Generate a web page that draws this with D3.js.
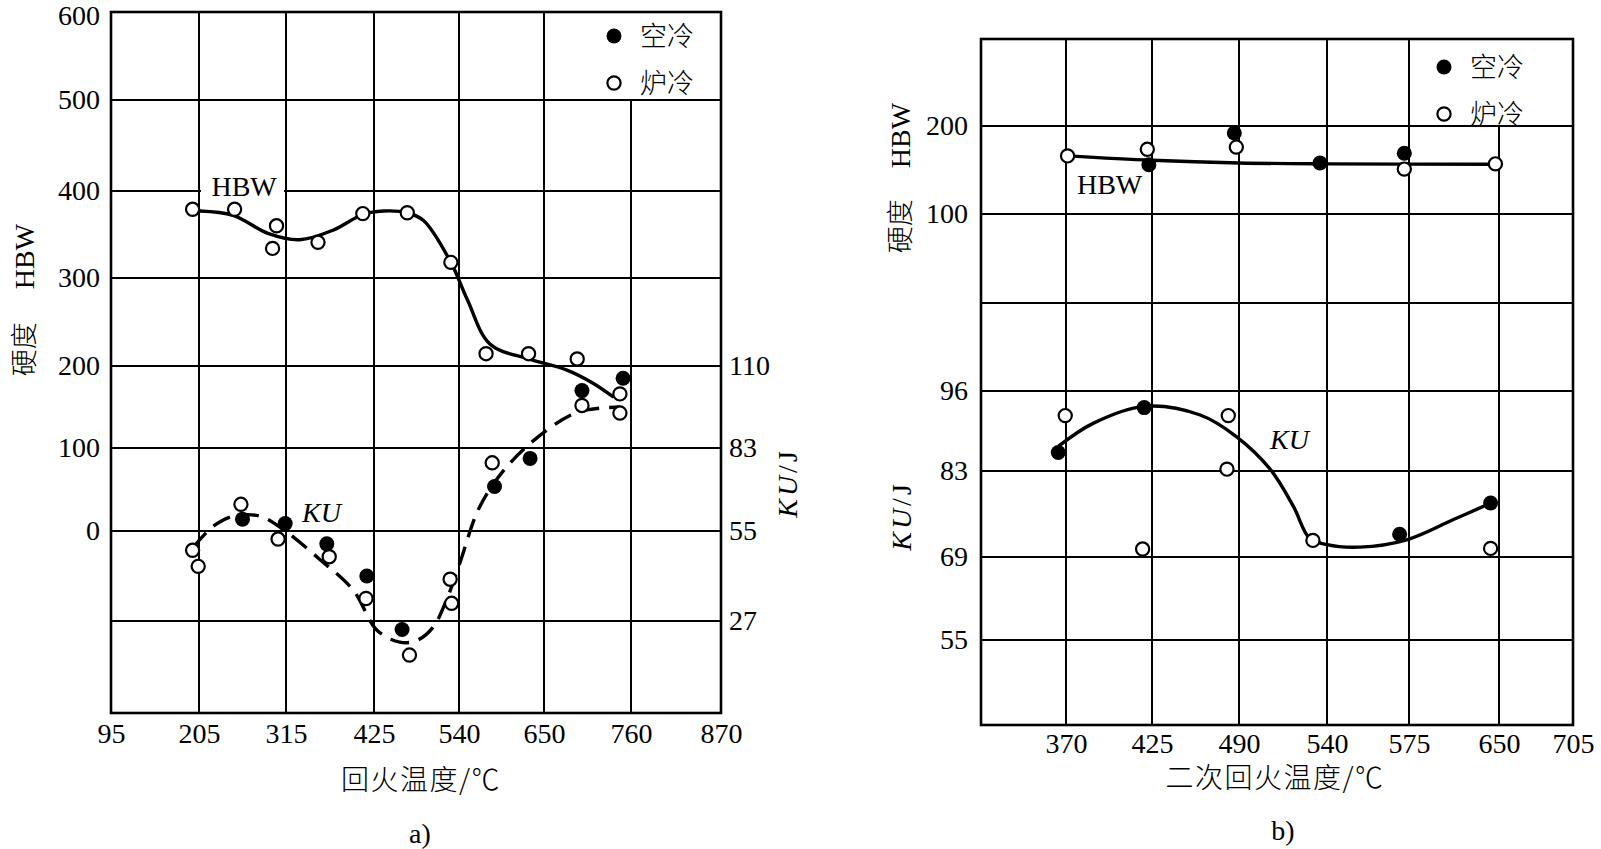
<!DOCTYPE html>
<html lang="zh">
<head>
    <meta charset="UTF-8">
    <title>回火温度对硬度和冲击吸收能量的影响</title>
    <script src="https://cdn.jsdelivr.net/npm/d3@7"></script>
    <style>
        body { margin: 0; background: #fff; }
        svg { display: block; background: #fff; }
        .num { font-family: "Liberation Serif", "Times New Roman", serif; font-size: 28px; }
        .cjk { font-family: "Noto Sans CJK SC", sans-serif; font-size: 27px; font-weight: 300; }
        .it { font-style: italic; }
        .grid { stroke: #000; stroke-width: 2; }
    </style>
</head>
<body>
<svg width="1601" height="849"></svg>
<script>
    // ---------- panel a) data ----------
    let tempsA = [95, 205, 315, 425, 540, 650, 760, 870];
    let hbwTicksA = [600, 500, 400, 300, 200, 100, 0];
    let kuTicksA = [110, 83, 55, 27];

    // [temperature, HBW]
    let hbwFurnaceA = [[197, 379], [250, 379], [303, 360], [298, 334], [355, 341], [411, 374],
        [470, 375], [529, 318], [575, 214], [630, 214], [692, 208], [746, 166]];
    let hbwAirA = [[698, 170], [750, 185]];
    let hbwCurveA = [[206, 377], [248, 372], [293, 351], [332, 344], [374, 355], [411, 373],
        [438, 377], [470, 375], [492, 366], [529, 318], [551, 275], [580, 225], [630, 208],
        [679, 195], [712, 179], [738, 162]];

    // [temperature, KU]
    let kuFurnaceA = [[197, 49], [204, 44], [258, 64], [305, 52.5], [369, 47], [415, 34],
        [473, 17], [528, 40], [530, 32.5], [583, 78], [698, 97], [746, 94.5]];
    let kuAirA = [[260, 59], [314, 57.5], [366, 51], [416, 41], [463, 24.5], [586, 70], [632, 79.5]];
    let kuCurveA = [[198, 50], [223, 56.6], [248, 60], [282, 60], [312, 55.4], [358, 46], [399, 36.6],
        [429, 24.3], [460, 20.8], [483, 21.3], [505, 25.2], [523, 33.5], [541, 45], [567, 63.3],
        [602, 76.7], [654, 89], [695, 95], [746, 96.5]];

    // ---------- panel b) data ----------
    let tempsB = [315, 370, 425, 490, 540, 575, 650, 705];
    let hbwTicksB = [200, 100];
    let kuTicksB = [96, 83, 69, 55];

    let hbwFurnaceB = [[371, 166], [422, 173.5], [488, 176], [573, 151], [647, 157]];
    let hbwAirB = [[423, 156], [486.5, 192], [536, 158], [573, 169]];
    let hbwCurveB = [[371, 166], [425, 161], [490, 158], [540, 157], [647, 156.5]];

    let kuFurnaceB = [[369.5, 92], [419, 70.3], [482, 92], [481, 83.3], [532, 71.7], [643, 70.4]];
    let kuAirB = [[365, 86], [420, 93.3], [571, 72.7], [643, 77.8]];
    let kuCurveB = [[365, 87], [387, 90.7], [420, 93.5], [461, 92.1], [488, 88.6], [508, 83.2],
        [521, 77.2], [530, 72.1], [540, 71], [554, 70.6], [574, 71.8], [612, 75.1], [640, 77.5]];

    let legendNames = ["空冷", "炉冷"];

    let svg = d3.select("svg");

    // ---------- scales ----------
    let colsA = [111, 199, 286, 374, 459, 544, 631, 721];
    let rowsA = [12, 100, 191, 278, 366, 448, 531, 621, 713];
    let xA = d3.scaleLinear().domain(tempsA).range(colsA);
    let hbwA = d3.scaleLinear().domain(hbwTicksA).range(rowsA.slice(0, 7));
    let kuA = d3.scaleLinear().domain(kuTicksA.concat([0])).range(rowsA.slice(4));

    let colsB = [981, 1066, 1152, 1239, 1327, 1409, 1499, 1573];
    let rowsB = [39, 126, 214, 303, 391, 471, 557, 640, 725];
    let xB = d3.scaleLinear().domain(tempsB).range(colsB);
    let hbwB = d3.scaleLinear().domain([300, 200, 100, 0]).range(rowsB.slice(0, 4));
    let kuB = d3.scaleLinear().domain(kuTicksB).range(rowsB.slice(4, 8));

    // ---------- grid + frame ----------
    function vline(x, y1, y2) {
        svg.append("line").attr("class", "grid")
            .attr("x1", x).attr("x2", x).attr("y1", y1).attr("y2", y2);
    }
    function hline(y, x1, x2) {
        svg.append("line").attr("class", "grid")
            .attr("x1", x1).attr("x2", x2).attr("y1", y).attr("y2", y);
    }

    // panel a (top-right cell is left open for the legend)
    tempsA.slice(1, -1).forEach(t => {
        vline(xA(t), t === 760 ? hbwA(500) : hbwA(600), kuA(0));
    });
    hbwTicksA.slice(1).forEach(v => hline(hbwA(v), xA(95), xA(870)));
    hline(kuA(27), xA(95), xA(870));
    svg.append("rect")
        .attr("x", xA(95)).attr("y", hbwA(600))
        .attr("width", xA(870) - xA(95)).attr("height", kuA(0) - hbwA(600))
        .attr("fill", "none").attr("stroke", "#000").attr("stroke-width", 2.6);

    // panel b
    tempsB.slice(1, -1).forEach(t => {
        vline(xB(t), t === 650 ? hbwB(200) : hbwB(300), rowsB[8]);
    });
    [200, 100, 0].forEach(v => hline(hbwB(v), xB(315), xB(705)));
    kuTicksB.forEach(v => hline(kuB(v), xB(315), xB(705)));
    svg.append("rect")
        .attr("x", xB(315)).attr("y", hbwB(300))
        .attr("width", xB(705) - xB(315)).attr("height", rowsB[8] - hbwB(300))
        .attr("fill", "none").attr("stroke", "#000").attr("stroke-width", 2.6);

    // ---------- axes (labels only) ----------
    function styleAxis(g) {
        g.attr("font-family", "'Liberation Serif', 'Times New Roman', serif")
            .attr("font-size", 28);
        g.select(".domain").remove();
    }
    svg.append("g").attr("transform", `translate(0, ${kuA(0)})`)
        .call(d3.axisBottom(xA).tickValues(tempsA).tickSize(0).tickPadding(10))
        .call(styleAxis);
    let yAxisA = svg.append("g").attr("transform", `translate(${xA(95)}, 0)`)
        .call(d3.axisLeft(hbwA).tickValues(hbwTicksA).tickSize(0).tickPadding(11))
        .call(styleAxis);
    // keep the top label inside the page
    yAxisA.selectAll("text").filter(d => d === 600).attr("dy", "0.45em");
    svg.append("g").attr("transform", `translate(${xA(870)}, 0)`)
        .call(d3.axisRight(kuA).tickValues(kuTicksA).tickSize(0).tickPadding(8))
        .call(styleAxis);

    svg.append("g").attr("transform", `translate(0, ${rowsB[8]})`)
        .call(d3.axisBottom(xB).tickValues(tempsB.slice(1)).tickSize(0).tickPadding(8))
        .call(styleAxis);
    svg.append("g").attr("transform", `translate(${xB(315)}, 0)`)
        .call(d3.axisLeft(hbwB).tickValues(hbwTicksB).tickSize(0).tickPadding(13))
        .call(styleAxis);
    svg.append("g").attr("transform", `translate(${xB(315)}, 0)`)
        .call(d3.axisLeft(kuB).tickValues(kuTicksB).tickSize(0).tickPadding(13))
        .call(styleAxis);

    // ---------- curves ----------
    function curve(data, x, y, dashed) {
        let line = d3.line()
            .x(d => x(d[0]))
            .y(d => y(d[1]))
            .curve(d3.curveCatmullRom.alpha(0.5));
        svg.append("path")
            .attr("d", line(data))
            .attr("fill", "none")
            .attr("stroke", "#000")
            .attr("stroke-width", 3.4)
            .attr("stroke-dasharray", dashed ? "19,10" : null);
    }
    curve(hbwCurveA, xA, hbwA, false);
    curve(kuCurveA, xA, kuA, true);
    curve(hbwCurveB, xB, hbwB, false);
    curve(kuCurveB, xB, kuB, false);

    // ---------- markers ----------
    function dots(data, x, y, filled) {
        svg.append("g").selectAll("circle")
            .data(data)
            .join("circle")
            .attr("cx", d => x(d[0]))
            .attr("cy", d => y(d[1]))
            .attr("r", filled ? 7.5 : 6.6)
            .attr("fill", filled ? "#000" : "#fff")
            .attr("stroke", "#000")
            .attr("stroke-width", filled ? 0 : 2.2);
    }
    dots(hbwFurnaceA, xA, hbwA, false);
    dots(hbwAirA, xA, hbwA, true);
    dots(kuFurnaceA, xA, kuA, false);
    dots(kuAirA, xA, kuA, true);
    dots(hbwFurnaceB, xB, hbwB, false);
    dots(hbwAirB, xB, hbwB, true);
    dots(kuFurnaceB, xB, kuB, false);
    dots(kuAirB, xB, kuB, true);

    // ---------- curve labels ----------
    svg.append("rect")
        .attr("x", xA(205) + 2).attr("y", hbwA(400) - 8)
        .attr("width", 83).attr("height", 14).attr("fill", "#fff");
    svg.append("text").attr("class", "num")
        .attr("x", xA(262)).attr("y", hbwA(394))
        .attr("text-anchor", "middle").text("HBW");
    svg.append("text").attr("class", "num it")
        .attr("x", xA(335)).attr("y", kuA(58)).text("KU");
    svg.append("text").attr("class", "num")
        .attr("x", xB(377)).attr("y", hbwB(123)).text("HBW");
    svg.append("text").attr("class", "num it")
        .attr("x", xB(507.6)).attr("y", kuB(86.6)).text("KU");

    // ---------- legends ----------
    function legend(x0, y0) {
        legendNames.forEach((name, i) => {
            let cy = y0 + i * 47;
            svg.append("circle")
                .attr("cx", x0).attr("cy", cy)
                .attr("r", i === 0 ? 7.5 : 6.6)
                .attr("fill", i === 0 ? "#000" : "#fff")
                .attr("stroke", "#000").attr("stroke-width", i === 0 ? 0 : 2.2);
            svg.append("text").attr("class", "cjk")
                .attr("x", x0 + 26).attr("y", cy + 10).text(name);
        });
    }
    legend(xA(650) + 70, hbwA(600) + 24);
    legend(xB(575) + 35, hbwB(300) + 28);

    // ---------- axis titles ----------
    // left of panel a: 硬度  HBW
    let ta = svg.append("text")
        .attr("transform", `translate(34, 300) rotate(-90)`)
        .attr("text-anchor", "middle");
    ta.append("tspan").attr("class", "cjk").text("硬度");
    ta.append("tspan").attr("class", "num").attr("dx", 33).text("HBW");

    // right of panel a: KU/J
    let tk = svg.append("text")
        .attr("transform", `translate(797, 483) rotate(-90)`)
        .attr("text-anchor", "middle")
        .attr("letter-spacing", 3);
    tk.append("tspan").attr("class", "num it").text("KU");
    tk.append("tspan").attr("class", "num").text("/J");

    // left of panel b
    let tb = svg.append("text")
        .attr("transform", `translate(910, 178) rotate(-90)`)
        .attr("text-anchor", "middle");
    tb.append("tspan").attr("class", "cjk").text("硬度");
    tb.append("tspan").attr("class", "num").attr("dx", 31).text("HBW");

    let tk2 = svg.append("text")
        .attr("transform", `translate(911, 516) rotate(-90)`)
        .attr("text-anchor", "middle")
        .attr("letter-spacing", 3);
    tk2.append("tspan").attr("class", "num it").text("KU");
    tk2.append("tspan").attr("class", "num").text("/J");

    // x titles and panel letters
    svg.append("text").attr("class", "cjk")
        .attr("x", 421).attr("y", 790)
        .attr("text-anchor", "middle").attr("letter-spacing", 1.5)
        .style("font-size", "28px")
        .text("回火温度/℃");
    svg.append("text").attr("class", "cjk")
        .attr("x", 1275).attr("y", 788)
        .attr("text-anchor", "middle").attr("letter-spacing", 1.5)
        .style("font-size", "28px")
        .text("二次回火温度/℃");
    svg.append("text").attr("class", "num")
        .attr("x", 420).attr("y", 843).attr("text-anchor", "middle").text("a)");
    svg.append("text").attr("class", "num")
        .attr("x", 1283).attr("y", 840).attr("text-anchor", "middle").text("b)");
</script>
</body>
</html>
